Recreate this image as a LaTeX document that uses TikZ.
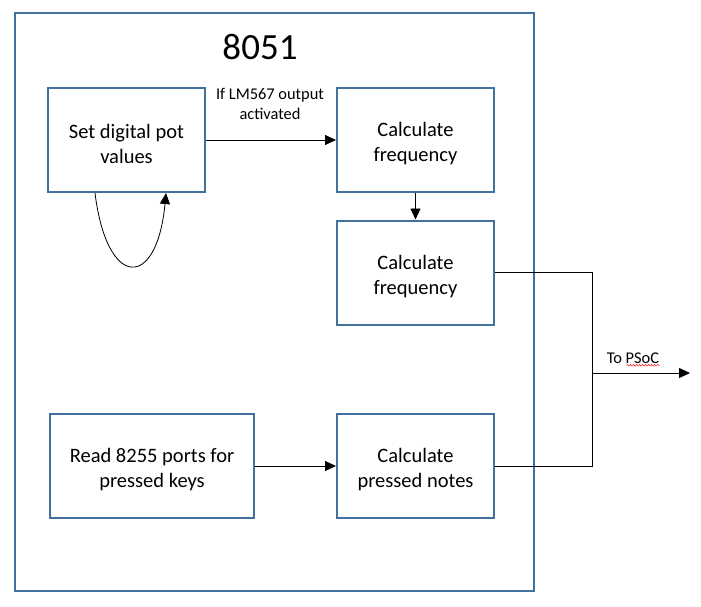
\documentclass[tikz,border=0pt]{standalone}
\usepackage{fontspec}
\setmainfont{Carlito}
\usetikzlibrary{arrows.meta,decorations.pathmorphing}
\definecolor{boxblue}{HTML}{41719C}
\newcommand{\boxstrut}{\rule{0pt}{22pt}}

\begin{document}
\begin{tikzpicture}[x=1pt,y=-1pt]
            \tikzstyle{every node}=[inner sep=0pt]
            \tikzstyle{task}=[draw=boxblue,line width=2pt,minimum height=104pt,align=center,font=\fontsize{20.5}{25}\selectfont]
            \tikzstyle{flow}=[line width=0.8pt,-{Triangle[length=11pt,width=10pt]}]
            \tikzstyle{wire}=[line width=0.8pt]
            \useasboundingbox (0,0) rectangle (701,606);
            \draw[draw=boxblue,line width=2pt] (15,13) rectangle (534,591);
            \node (chip) at (260,47) {\fontsize{37}{40}\selectfont 8051};
            \node[task,minimum width=157pt] (setpot) at (126.5,140) {\boxstrut Set digital pot\\values};
            \node[task,minimum width=157pt] (freqa) at (415.5,140) {\boxstrut Calculate\\frequency};
            \node[task,minimum width=157pt] (freqb) at (415.5,272.5) {\boxstrut Calculate\\frequency};
            \node[task,minimum width=204pt] (readports) at (152,466) {\boxstrut Read 8255 ports for\\pressed keys};
            \node[task,minimum width=157pt] (notes) at (415.5,466) {\boxstrut Calculate\\pressed notes};
            \node[align=center,font=\fontsize{16.4}{20}\selectfont] (cond) at (270,104) {If LM567 output\\activated};
            \coordinate (join) at (592,373);
            \coordinate (psoc) at (690,373);
            \draw[flow] (setpot) -- (freqa);
            \draw[flow] (freqa) -- (freqb);
            \draw[flow] (readports) -- (notes);
            \draw[flow] ([xshift=-31.5pt]setpot.south) .. controls (107,290) and (157,290) .. ([xshift=39.5pt]setpot.south);
            \draw[wire] (freqb.east) -| (join);
            \draw[wire] (notes.east) -| (join);
            \draw[flow] (join) -- (psoc);
            \node[font=\fontsize{16.4}{20}\selectfont] (tolbl) at (633,358) {To PSoC};
            \draw[red,line width=0.5pt,decorate,decoration={snake,amplitude=0.8pt,segment length=3pt}] ([xshift=20pt,yshift=-2pt]tolbl.base west) -- ([yshift=-2pt]tolbl.base east);
\end{tikzpicture}
\end{document}
